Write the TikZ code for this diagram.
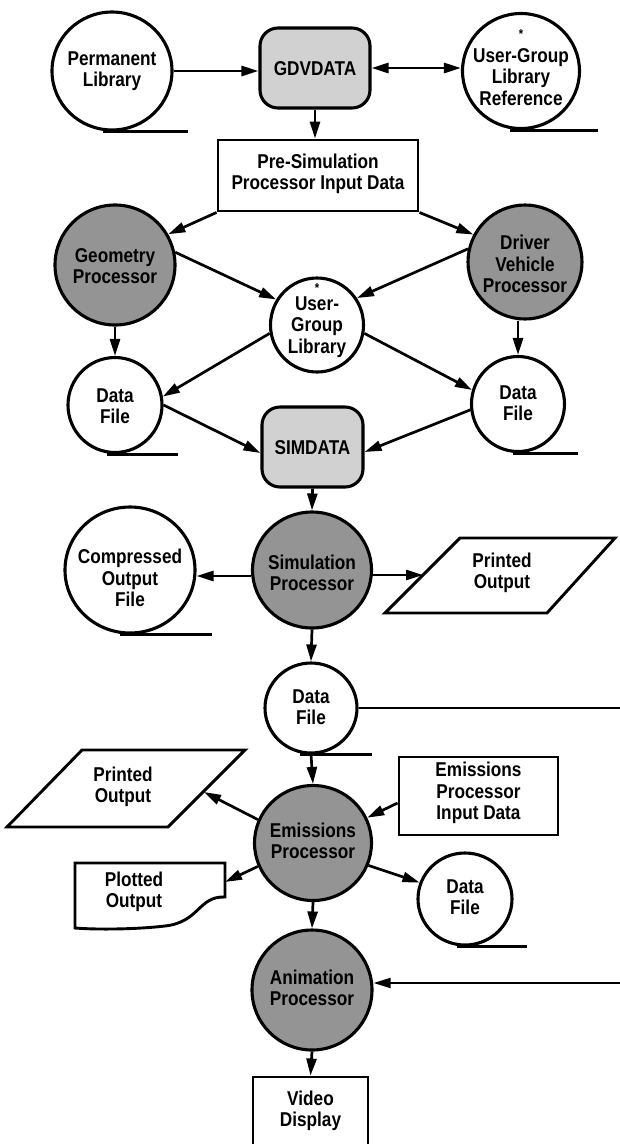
\documentclass[tikz,border=0pt]{standalone}
\usepackage{fontspec}
\newfontfamily\cond{Liberation Sans}[FakeStretch=0.86]
\usetikzlibrary{shapes.geometric,arrows.meta}
\begin{document}
\begin{tikzpicture}[x=1pt,y=-1pt,
  store/.style={ellipse, draw, line width=3.1pt, fill=white, inner sep=0pt},
  proc/.style={ellipse, draw, line width=3.1pt, fill=black!42, inner sep=0pt},
  datbox/.style={rectangle, rounded corners=18pt, draw, line width=3.1pt, fill=black!18, inner sep=0pt},
  plainbox/.style={rectangle, draw, line width=2.9pt, fill=white, inner sep=0pt},
  shp/.style={draw, line width=2.9pt, line join=miter, fill=white},
  lbl/.style={font=\cond\bfseries\fontsize{20}{21.5}\selectfont, align=center, inner sep=0pt},
  astk/.style={font=\cond\bfseries\fontsize{13}{13}\selectfont, inner sep=0pt},
  tip/.style={-{Triangle[length=17pt,width=10pt]}},
  arr/.style={line width=2.7pt, tip},
  tail/.style={line width=2.9pt},
  thinline/.style={line width=1.9pt}
]
\useasboundingbox (0,0) rectangle (620,1144);
\clip (0,0) rectangle (620,1144);

% ---------- shapes ----------
\node[store, minimum width=120pt, minimum height=118pt] (perm) at (112,71) {};
\node[datbox, minimum width=110pt, minimum height=80pt] (gdv) at (315,68) {};
\node[store, minimum width=117pt, minimum height=115pt] (uglr) at (521,71) {};
\node[plainbox, minimum width=200pt, minimum height=71pt] (presim) at (318,175.5) {};
\node[proc, minimum width=120pt, minimum height=120pt] (geom) at (115,265) {};
\node[proc, minimum width=114pt, minimum height=114pt] (driver) at (525,262) {};
\node[store, minimum width=93pt, minimum height=94pt] (ugl) at (317,325) {};
\node[store, minimum width=94pt, minimum height=95pt] (dfL) at (115,405) {};
\node[store, minimum width=93pt, minimum height=95pt] (dfR) at (518,404) {};
\node[datbox, minimum width=101pt, minimum height=80pt] (simdata) at (312.5,447) {};
\node[store, minimum width=130pt, minimum height=126pt] (comp) at (130,570) {};
\node[proc, minimum width=119pt, minimum height=116pt] (sim) at (312,570) {};
\node[store, minimum width=92pt, minimum height=90pt] (dfM) at (311,708) {};
\node[plainbox, minimum width=159pt, minimum height=78pt] (epid) at (478.5,796) {};
\node[proc, minimum width=117pt, minimum height=115pt] (emis) at (313,843) {};
\node[store, minimum width=94pt, minimum height=92pt] (dfE) at (465,899) {};
\node[proc, minimum width=120pt, minimum height=120pt] (anim) at (312,990) {};
\node[plainbox, minimum width=115pt, minimum height=75pt] (video) at (310.5,1114.5) {};

% parallelograms and plotted output
\draw[shp] (460,538) -- (615,538) -- (547,613) -- (385,613) -- cycle;
\draw[shp] (82,750) -- (245,750) -- (168,827) -- (7,827) -- cycle;
\draw[shp] (75,863) -- (225,863) -- (225,897)
  .. controls (198,896) and (200,922) .. (165,926)
  .. controls (140,929) and (100,930) .. (75,928) -- cycle;
\coordinate (pR4) at (423,575);
\coordinate (pL4) at (204,792);
\coordinate (plotA) at (225,882);
\coordinate (rOut) at (620,708);
\coordinate (rIn) at (620,983);

% data-store tails
\draw[tail] ([xshift=-9pt]perm.south) -- ([xshift=76pt]perm.south);
\draw[tail] ([xshift=-11pt]uglr.south) -- ([xshift=77pt]uglr.south);
\draw[tail] ([xshift=-8pt]dfL.south) -- ([xshift=63pt]dfL.south);
\draw[tail] ([xshift=-5pt]dfR.south) -- ([xshift=60pt]dfR.south);
\draw[tail] ([xshift=-10pt]comp.south) -- ([xshift=82pt]comp.south);
\draw[tail] ([xshift=-11pt]dfM.south) -- ([xshift=61pt]dfM.south);
\draw[tail] ([xshift=-8pt]dfE.south) -- ([xshift=62pt]dfE.south);

% ---------- labels ----------
\node[lbl] (permT) at (112,71) {Permanent\\Library};
\node[lbl] (gdvT) at (315,69) {GDVDATA};
\node[astk] (uglrS) at (521,34) {*};
\node[lbl] (uglrT) at (521,77) {User-Group\\Library\\Reference};
\node[lbl] (presimT) at (318,174) {Pre-Simulation\\Processor Input Data};
\node[lbl] (geomT) at (115,266) {Geometry\\Processor};
\node[lbl] (driverT) at (525,264) {Driver\\Vehicle\\Processor};
\node[astk] (uglS) at (317,288) {*};
\node[lbl] (uglT) at (317,327) {User-\\Group\\Library};
\node[lbl] (dfLT) at (115,406) {Data\\File};
\node[lbl] (dfRT) at (518,403) {Data\\File};
\node[lbl] (simdataT) at (312.5,448) {SIMDATA};
\node[lbl] (compT) at (130,578) {Compressed\\Output\\File};
\node[lbl] (simT) at (312,573) {Simulation\\Processor};
\node[lbl] (prRT) at (502,573) {Printed\\Output};
\node[lbl] (dfMT) at (311,707) {Data\\File};
\node[lbl] (prLT) at (123,787) {Printed\\Output};
\node[lbl] (epidT) at (478.5,793) {Emissions\\Processor\\Input Data};
\node[lbl] (emisT) at (313,841) {Emissions\\Processor};
\node[lbl] (plotT) at (134,892) {Plotted\\Output};
\node[lbl] (dfET) at (465,897) {Data\\File};
\node[lbl] (animT) at (312,988) {Animation\\Processor};
\node[lbl] (videoT) at (310.5,1111) {Video\\Display};

% ---------- connectors ----------
\draw[arr] (perm.east) -- (perm.east -| gdv.west);
\draw[line width=2.7pt, {Triangle[length=17pt,width=10pt]}-{Triangle[length=17pt,width=10pt]}] (gdv.east) -- (gdv.east -| uglr.west);
\draw[arr] (gdv.south) -- (gdv.south |- presim.north);
\draw[arr] (presim.south west) -- (geom.30);
\draw[arr] (presim.south east) -- (driver.152);
\draw[arr] (geom.12) -- (ugl.148);
\draw[arr] (driver.167) -- (ugl.34);
\draw[arr] (geom.south) -- (dfL.north);
\draw[arr] (driver.south -| dfR.north) -- (dfR.north);
\draw[arr] (ugl.190) -- (dfL.10);
\draw[arr] (ugl.350) -- (dfR.163);
\draw[arr] (dfL.0) -- ([yshift=-6pt]simdata.west);
\draw[arr] (dfR.187) -- ([yshift=-5pt]simdata.east);
\draw[arr] (simdata.south) -- (sim.north);
\draw[arr] ([yshift=-6pt]sim.west) -- ([yshift=-6pt]comp.east);
\draw[arr] ([yshift=-5pt]sim.east) -- (pR4);
\draw[arr] (sim.south) -- (dfM.north);
\draw[thinline] (dfM.east) -- (rOut);
\draw[arr] (dfM.south) -- (emis.north);
\draw[arr] (emis.157) -- (pL4);
\draw[arr] ([yshift=-7pt]epid.west) -- (emis.25);
\draw[arr] (emis.203) -- (plotA);
\draw[arr] (emis.338) -- (dfE.160);
\draw[arr] (emis.south) -- (anim.north);
\draw[thinline, tip] (rIn) -- (rIn -| anim.east);
\draw[arr] (anim.south) -- (video.north);
\end{tikzpicture}
\end{document}
